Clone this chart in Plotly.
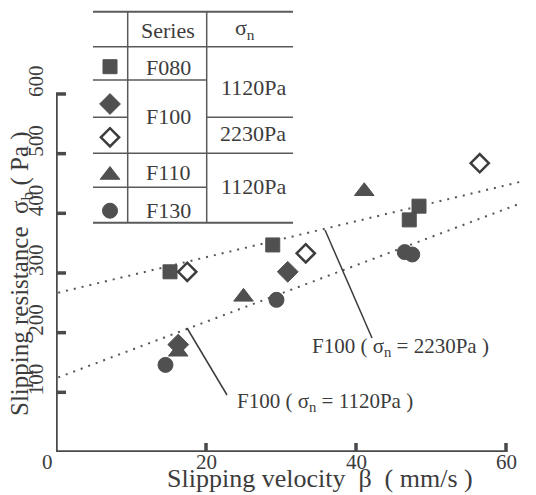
import plotly.graph_objects as go

# ---------------- data ----------------
f080_x = [15.2, 28.9, 47.1, 48.4]
f080_y = [302, 347, 389, 412]

f100_1120_x = [16.3, 30.9]
f100_1120_y = [180, 302]

f100_2230_x = [17.5, 33.3, 56.5]
f100_2230_y = [302, 333, 484]

f110_x = [16.3, 25.0, 41.1]
f110_y = [168, 260, 437]

f130_x = [14.6, 29.4, 46.5, 47.5]
f130_y = [146, 255, 335, 331]

fit_x = [0.3, 62.0]
fit_2230_y = [267, 453]
fit_1120_y = [125, 417]

x_ticks = [0, 20, 40, 60]
y_ticks = [100, 200, 300, 400, 500, 600]

table_series = ["F080", "F100", "F110", "F130"]
table_sigma = ["1120Pa", "2230Pa", "1120Pa"]

# ---------------- geometry helpers (page-pixel layout) ----------------
OFF = 8                       # page offset of the figure (body margin)
W, H = 536 - OFF, 495 - OFF
X0, PXU = 56.0, 7.5           # page px of x=0, px per unit
Y0, PYU = 452.0, 0.5967       # page px of y=0, px per unit
ML = X0 - OFF
MB = H - (Y0 - OFF)
MR, MT = 0, 0
PW = W - ML - MR
PH = H - MT - MB
XMAX = PW / PXU
YMAX = PH / PYU


def dx(px):
    return (px - X0) / PXU


def dy(py):
    return (Y0 - py) / PYU


def pxp(px):
    return (px - OFF - ML) / PW


def pyp(py):
    return (H - MB - (py - OFF)) / PH


INK = "#3c3c3c"
MK = "#505050"
FONT = "Liberation Serif, Times New Roman, serif"

fig = go.Figure()

# fit lines
for fy in (fit_2230_y, fit_1120_y):
    fig.add_trace(go.Scatter(x=fit_x, y=fy, mode="lines",
                             line=dict(color="#555555", width=2, dash="2px,6px"),
                             hoverinfo="skip", showlegend=False, cliponaxis=False))

marker_line = dict(color=MK, width=1)


def add_series(xs, ys, symbol, size, open_=False):
    if open_:
        m = dict(symbol=symbol, size=size, color="white",
                 line=dict(color=INK, width=2.5))
    else:
        m = dict(symbol=symbol, size=size, color=MK, line=marker_line)
    fig.add_trace(go.Scatter(x=xs, y=ys, mode="markers", marker=m,
                             showlegend=False, cliponaxis=False))


add_series(f080_x, f080_y, "square", 14)
add_series(f100_1120_x, f100_1120_y, "diamond", 16)
add_series(f100_2230_x, f100_2230_y, "diamond", 14, open_=True)
add_series(f110_x, f110_y, "triangle-up", 17)
add_series(f130_x, f130_y, "circle", 15)

# table key markers
key_px = [66.7, 104, 137.3, 175, 210.7]
key_sym = ["square", "diamond", "diamond", "triangle-up", "circle"]
key_size = [14, 16, 14, 17, 15]
for i, (py, s, sz) in enumerate(zip(key_px, key_sym, key_size)):
    add_series([dx(110)], [dy(py)], s, sz, open_=(i == 2))

shapes = []
# axes
AXC = "#4a4a4a"
shapes.append(dict(type="line", xref="x", yref="y", x0=0, x1=60, y0=0, y1=0,
                   line=dict(color=AXC, width=3.5)))
shapes.append(dict(type="line", xref="x", yref="y", x0=0, x1=0, y0=0, y1=600,
                   line=dict(color=AXC, width=3.5)))
for t in x_ticks[1:]:
    shapes.append(dict(type="line", xref="x", yref="y", x0=t, x1=t, y0=0,
                       y1=9 / PYU, line=dict(color=AXC, width=3.5)))
for t in y_ticks:
    shapes.append(dict(type="line", xref="x", yref="y", x0=0, x1=10 / PXU,
                       y0=t, y1=t, line=dict(color=AXC, width=3.5)))

# leader lines
shapes.append(dict(type="line", xref="x", yref="y", x0=dx(325), y0=dy(230),
                   x1=dx(372), y1=dy(338), line=dict(color=INK, width=1.5)))
shapes.append(dict(type="line", xref="x", yref="y", x0=dx(187), y0=dy(328),
                   x1=dx(227), y1=dy(395), line=dict(color=INK, width=1.5)))

# table lines (page pixel layout)
TL, TR = 93, 293
C1, C2 = 127.7, 206.7
TC = "#5a5a5a"


def hline(y, x0, x1, w=1.5):
    shapes.append(dict(type="line", xref="paper", yref="paper",
                       x0=pxp(x0), x1=pxp(x1), y0=pyp(y), y1=pyp(y),
                       line=dict(color=TC, width=w)))


def vline(x, y0, y1, w=1.5):
    shapes.append(dict(type="line", xref="paper", yref="paper",
                       x0=pxp(x), x1=pxp(x), y0=pyp(y0), y1=pyp(y1),
                       line=dict(color=TC, width=w)))


hline(11.7, TL, TR, 2)
hline(46.7, TL, TR)
hline(80, TL, C2)
hline(117.3, TL, C1)
hline(117.3, C2, TR)
hline(153.3, TL, TR)
hline(187.3, TL, C2)
hline(222.7, TL, TR, 2)
vline(C1, 11.7, 222.7)
vline(C2, 11.7, 222.7)

ann = []


def text(px, py, s, size=21, xanchor="center", angle=0):
    ann.append(dict(xref="paper", yref="paper", x=pxp(px), y=pyp(py), text=s,
                    showarrow=False, xanchor=xanchor, yanchor="middle",
                    textangle=angle, font=dict(family=FONT, size=size, color=INK)))


# table texts
text(168, 30, "Series", size=22)
text(245, 29, "σ<sub>n</sub>", size=22)
series_py = [68, 116.7, 172, 210]
for s, py in zip(table_series, series_py):
    text(168, py, s, size=22)
sigma_py = [87.3, 133.3, 186.7]
for s, py in zip(table_sigma, sigma_py):
    text(253, py, s, size=22)

# tick labels
for t in x_ticks:
    ann.append(dict(xref="x", yref="paper", x=t, y=pyp(462), text=str(t),
                    showarrow=False, xanchor="center", yanchor="middle",
                    xshift=-9 if t == 0 else 0,
                    font=dict(family=FONT, size=21, color=INK)))
for t in y_ticks:
    ann.append(dict(xref="paper", yref="y", x=pxp(36), y=t, text=str(t),
                    showarrow=False, xanchor="center", yanchor="middle",
                    yshift=13, textangle=-90,
                    font=dict(family=FONT, size=21, color=INK)))

# axis titles
text(320, 479, "Slipping velocity\u00a0\u00a0β\u00a0\u00a0( mm/s )", size=26)
text(21, 274, "Slipping resistance\u00a0\u00a0σ<sub>b</sub>\u00a0( Pa )", size=25, angle=-90)

# line labels
text(310, 347, "F100 ( σ<sub>n</sub> = 2230Pa )", size=21, xanchor="left")
text(235, 402, "F100 ( σ<sub>n</sub> = 1120Pa )", size=21, xanchor="left")

fig.update_layout(
    width=W, height=H,
    margin=dict(l=ML, r=MR, t=MT, b=MB, pad=0),
    paper_bgcolor="white", plot_bgcolor="white",
    xaxis=dict(range=[0, XMAX], visible=False, fixedrange=True),
    yaxis=dict(range=[0, YMAX], visible=False, fixedrange=True),
    shapes=shapes, annotations=ann, showlegend=False,
)

fig.write_html("out.html")
